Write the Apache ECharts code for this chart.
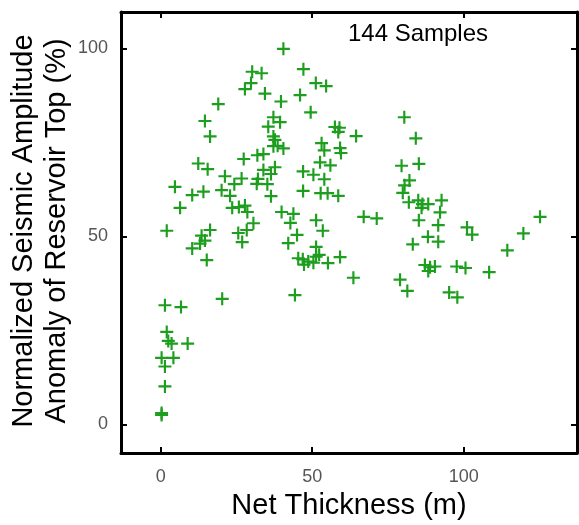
<!DOCTYPE html>
<html>
<head>
<meta charset="utf-8">
<script src="https://cdn.jsdelivr.net/npm/echarts@6/dist/echarts.min.js"></script>
<style>html,body{margin:0;padding:0;background:#fff}#c{width:579px;height:525px}</style>
</head>
<body>
<div id="c"></div>
<script>
// Net thickness (m)
const netThickness = [
  30.2,33.3,29.8,27.8,34.4,19.0,14.6,16.3,37.2,35.5,37.2,37.7,37.2,38.6,40.5,
  27.4,31.9,33.9,12.4,40.5,47.1,51.2,54.6,46.0,39.7,49.5,39.4,57.5,59.0,58.6,
  64.5,53.1,54.0,59.2,59.5,80.4,84.2,15.5,21.2,4.7,10.4,14.1,24.3,26.7,31.7,
  33.9,32.1,35.2,36.4,20.1,22.9,6.4,23.6,25.8,27.8,28.6,36.4,2.0,16.3,13.5,
  14.6,10.4,13.0,25.6,28.4,30.6,26.9,15.2,1.4,6.7,20.3,2.0,2.5,3.6,8.9,
  0.3,4.2,1.4,1.4,0.3,0.3,52.6,56.0,37.7,47.0,50.4,54.0,47.0,52.8,55.1,
  58.6,39.9,43.8,42.8,51.3,53.5,45.0,42.1,51.3,45.4,46.9,47.3,48.7,50.4,51.3,
  52.3,55.2,59.2,63.6,67.0,71.3,44.3,79.5,85.2,82.1,80.5,79.9,81.9,85.0,86.4,
  88.3,86.1,85.2,88.2,83.2,87.2,88.9,88.3,90.5,79.0,81.4,92.7,92.2,91.6,91.6,
  101.1,102.8,125.2,119.7,114.4,108.4,97.7,100.6,95.2,97.9
];
// Normalized seismic amplitude anomaly of reservoir top (%)
const amplitudeAnomaly = [
  93.8,93.4,90.8,89.2,88.0,85.2,80.7,76.6,81.7,79.2,76.6,75.7,74.0,74.1,73.4,
  70.6,71.6,71.9,69.4,99.9,94.5,90.8,90.0,87.6,85.9,83.0,80.4,79.1,78.9,77.8,
  76.7,74.8,72.9,73.5,72.2,81.7,76.1,67.9,66.0,63.2,61.0,61.9,63.9,65.4,64.0,
  67.7,65.3,63.9,66.6,62.3,60.8,57.6,57.6,57.8,58.2,56.5,60.7,51.5,51.7,50.2,
  48.9,46.8,48.1,50.9,51.7,53.5,48.5,43.7,31.7,31.2,33.4,24.6,22.2,21.5,21.5,
  17.7,17.7,15.4,10.1,3.0,2.5,69.7,68.9,68.4,67.3,66.4,65.2,62.1,61.5,61.5,
  60.8,56.5,56.0,53.6,54.3,51.5,50.4,48.2,47.2,44.2,43.9,42.5,43.3,43.0,44.6,
  45.1,42.9,44.5,39.0,55.2,54.8,34.4,68.8,69.3,64.9,63.6,61.6,59.1,59.6,58.6,
  58.6,57.6,54.3,49.9,47.9,42.4,41.8,40.8,42.0,38.5,35.5,59.6,56.4,53.0,48.6,
  52.4,50.5,55.2,50.8,46.3,40.5,42.0,41.6,35.1,33.8
];
const tickValues = [0, 50, 100];
const sampleLabel = '144 Samples';
const xName = 'Net Thickness (m)';
const yName = 'Normalized Seismic Amplitude\nAnomaly of Reservoir Top (%)';

const points = netThickness.map((x, i) => [x, amplitudeAnomaly[i]]);

const chart = echarts.init(document.getElementById('c'), null, {renderer: 'canvas', width: 579, height: 525});
const lineStyle = {color: '#000', width: 3};
const tickStyle = {show: true, inside: true, length: 6, lineStyle: {color: '#000', width: 2}, customValues: tickValues};
const labelStyle = {fontFamily: 'Liberation Sans', fontSize: 18, color: '#555', customValues: tickValues};
const xRange = {min: -13.1, max: 137.4};
const yRange = {min: -7.64, max: 109.7};

chart.setOption({
  animation: false,
  backgroundColor: '#fff',
  grid: {left: 121, width: 456, top: 12, height: 453, containLabel: false},
  xAxis: [
    Object.assign({type: 'value', position: 'bottom', axisLine: {show: true, onZero: false, lineStyle},
      axisTick: tickStyle, axisLabel: Object.assign({margin: 15}, labelStyle), splitLine: {show: false},
      name: xName, nameLocation: 'middle', nameGap: 36,
      nameTextStyle: {fontFamily: 'Liberation Sans', fontSize: 29, color: '#000'}}, xRange),
    Object.assign({type: 'value', position: 'top', axisLine: {show: true, onZero: false, lineStyle},
      axisTick: tickStyle, axisLabel: {show: false}, splitLine: {show: false}}, xRange)
  ],
  yAxis: [
    Object.assign({type: 'value', position: 'left', axisLine: {show: true, onZero: false, lineStyle},
      axisTick: tickStyle, axisLabel: Object.assign({margin: 13}, labelStyle), splitLine: {show: false}}, yRange),
    Object.assign({type: 'value', position: 'right', axisLine: {show: true, onZero: false, lineStyle},
      axisTick: tickStyle, axisLabel: {show: false}, splitLine: {show: false}}, yRange)
  ],
  graphic: [
    {type: 'text', x: 40, y: 231, rotation: Math.PI / 2,
      style: {text: yName, fontFamily: 'Liberation Sans', fontSize: 29, lineHeight: 33,
        fill: '#000', align: 'center', verticalAlign: 'middle'}},
    {type: 'text', x: 418, y: 34, style: {text: sampleLabel, fontFamily: 'Liberation Sans', fontSize: 24,
      fill: '#000', align: 'center', verticalAlign: 'middle'}}
  ],
  series: [{
    type: 'scatter',
    xAxisIndex: 0, yAxisIndex: 0,
    data: points,
    symbol: 'path://M5,0h2v5h5v2h-5v5h-2v-5h-5v-2h5z',
    symbolSize: 13,
    itemStyle: {color: '#1e9e1e', opacity: 1}
  }]
});
</script>
</body>
</html>
